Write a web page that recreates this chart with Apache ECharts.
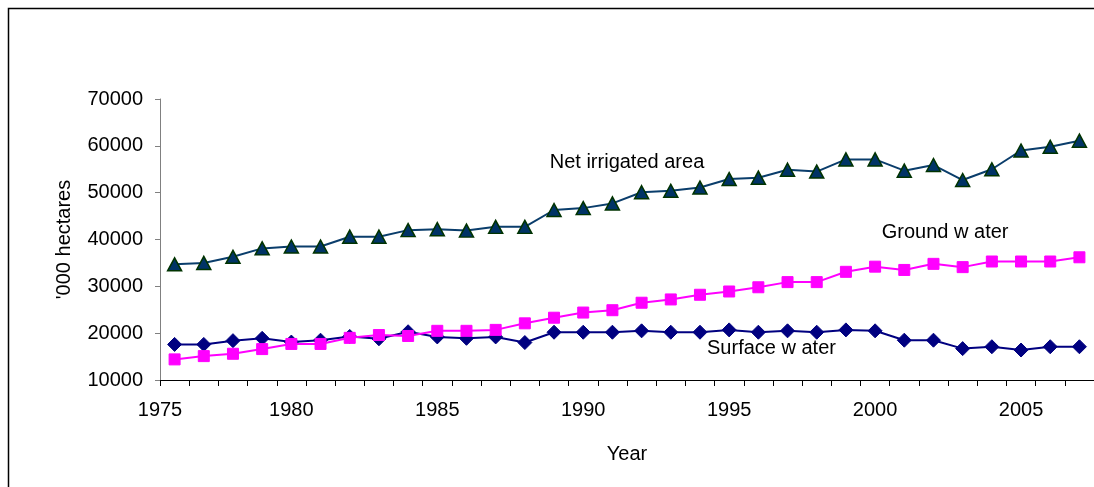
<!DOCTYPE html>
<html>
<head>
<meta charset="utf-8">
<script src="https://cdn.jsdelivr.net/npm/echarts@6/dist/echarts.min.js"></script>
<style>
  html, body { margin: 0; padding: 0; background: #fff; }
  #chart { width: 1094px; height: 487px; }
</style>
</head>
<body>
<div id="chart"></div>
<script>
// Irrigated area by source, '000 hectares
const years = [1976, 1977, 1978, 1979, 1980, 1981, 1982, 1983, 1984, 1985, 1986,
               1987, 1988, 1989, 1990, 1991, 1992, 1993, 1994, 1995, 1996, 1997,
               1998, 1999, 2000, 2001, 2002, 2003, 2004, 2005, 2006, 2007];

const netIrrigated = [34700, 35000, 36300, 38100, 38500, 38500, 40600, 40600, 42000, 42200, 41900,
                      42700, 42700, 46300, 46700, 47700, 50100, 50400, 51100, 52900, 53200, 54900,
                      54500, 57100, 57100, 54700, 55900, 52700, 55000, 59000, 59800, 61100];

const groundWater = [14400, 15100, 15600, 16600, 17700, 17700, 19000, 19600, 19400, 20500, 20500,
                     20700, 22100, 23300, 24400, 24900, 26500, 27200, 28200, 28900, 29800, 30900,
                     30900, 33100, 34200, 33500, 34800, 34100, 35300, 35300, 35300, 36200];

const surfaceWater = [17600, 17600, 18400, 18900, 18100, 18500, 19300, 18800, 20300, 19200, 18900,
                      19200, 18000, 20200, 20200, 20200, 20500, 20200, 20200, 20700, 20200, 20500,
                      20200, 20700, 20500, 18500, 18500, 16700, 17100, 16400, 17100, 17100];

const yearTickLabels = [1975, 1980, 1985, 1990, 1995, 2000, 2005];
const yTickValues = [10000, 20000, 30000, 40000, 50000, 60000, 70000];

// Series captions placed in data space
const captions = [
  { text: 'Net irrigated area', year: 1991.5, value: 56500 },
  { text: 'Ground w ater', year: 2002.4, value: 41600 },
  { text: 'Surface w ater', year: 1996.45, value: 16800 }
];

const xMin = years[0] - 0.5;
const xMax = years[years.length - 1] + 0.5;
const yearTicks = [];
for (let v = xMin; v <= xMax + 1e-9; v += 1) yearTicks.push(v);

const pairs = arr => years.map((y, i) => [y, arr[i]]);
const FONT = '"Liberation Sans", Arial, sans-serif';

const chart = echarts.init(document.getElementById('chart'), null, { renderer: 'canvas' });

chart.setOption({
  animation: false,
  backgroundColor: '#ffffff',
  grid: { left: 160, right: 0, top: 99, bottom: 107, containLabel: false },
  xAxis: {
    type: 'value',
    min: xMin,
    max: xMax,
    name: 'Year',
    nameLocation: 'middle',
    nameGap: 64,
    nameTextStyle: { color: '#000', fontSize: 20, fontFamily: FONT },
    axisLine: { show: true, lineStyle: { color: '#000', width: 1 } },
    axisTick: { show: true, length: 6, customValues: yearTicks, lineStyle: { color: '#000' } },
    axisLabel: {
      color: '#000', fontSize: 20, fontFamily: FONT, margin: 20,
      customValues: yearTickLabels.map(y => Math.max(y, xMin)),
      formatter: v => String(Math.floor(v))
    },
    splitLine: { show: false }
  },
  yAxis: {
    type: 'value',
    min: yTickValues[0],
    max: yTickValues[yTickValues.length - 1],
    interval: 10000,
    name: "'000 hectares",
    nameLocation: 'middle',
    nameGap: 86,
    nameRotate: 90,
    nameTextStyle: { color: '#000', fontSize: 20, fontFamily: FONT },
    axisLine: { show: true, lineStyle: { color: '#808080', width: 1 } },
    axisTick: { show: true, length: 5, lineStyle: { color: '#808080' } },
    axisLabel: {
      color: '#000', fontSize: 20, fontFamily: FONT, margin: 17,
      formatter: v => String(v)
    },
    splitLine: { show: false }
  },
  series: [
    {
      name: 'Surface water',
      type: 'line',
      data: pairs(surfaceWater),
      symbol: 'diamond',
      symbolSize: 14,
      lineStyle: { color: '#000080', width: 2 },
      itemStyle: { color: '#000080', borderColor: '#000080', borderWidth: 1 },
      z: 2
    },
    {
      name: 'Ground water',
      type: 'line',
      data: pairs(groundWater),
      symbol: 'rect',
      symbolSize: 11,
      lineStyle: { color: '#ff00ff', width: 2 },
      itemStyle: { color: '#ff00ff', borderColor: '#ff00ff', borderWidth: 1 },
      z: 3
    },
    {
      name: 'Net irrigated area',
      type: 'line',
      data: pairs(netIrrigated),
      symbol: 'triangle',
      symbolSize: [14, 13],
      lineStyle: { color: '#0a3d6b', width: 2 },
      itemStyle: { color: '#003366', borderColor: '#003300', borderWidth: 1.5 },
      z: 4
    }
  ]
});

// Outer frame and series captions
const graphics = [{
  type: 'rect',
  shape: { x: 8.5, y: 8.5, width: 1200, height: 600 },
  style: { fill: null, stroke: '#000', lineWidth: 1.5 },
  silent: true,
  z: -1
}];
captions.forEach(c => {
  const p = chart.convertToPixel({ gridIndex: 0 }, [c.year, c.value]);
  graphics.push({
    type: 'text',
    x: p[0], y: p[1],
    style: {
      text: c.text, fill: '#000', fontSize: 20, fontFamily: FONT,
      align: 'center', verticalAlign: 'middle'
    },
    z: 10
  });
});
chart.setOption({ graphic: graphics });
</script>
</body>
</html>
